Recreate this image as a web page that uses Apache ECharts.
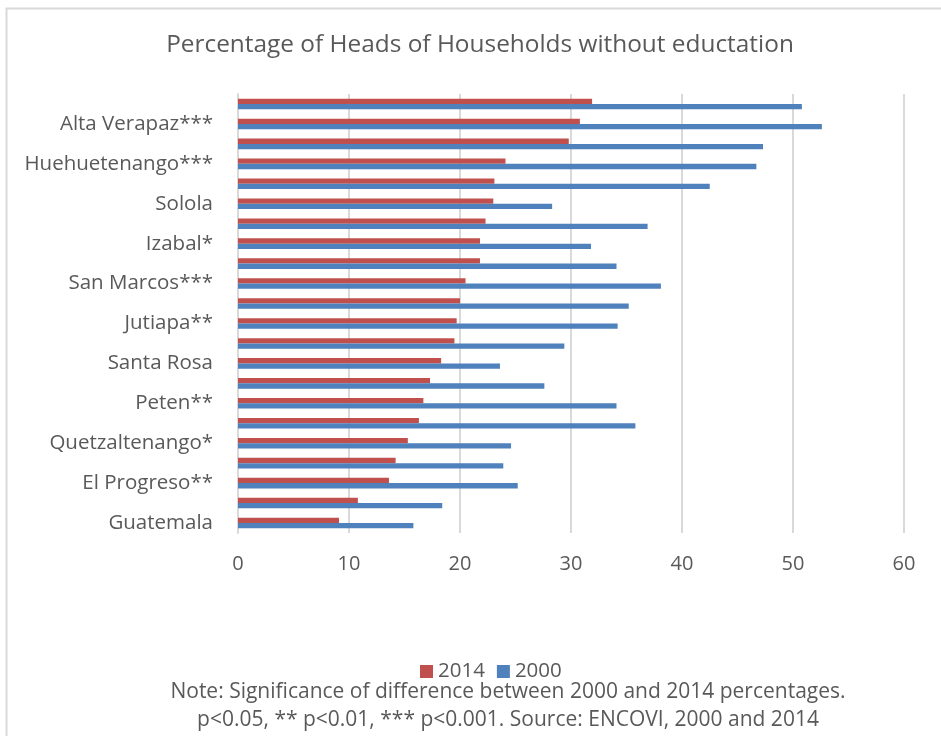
<!DOCTYPE html>
<html>
<head>
<meta charset="utf-8">
<script src="https://cdn.jsdelivr.net/npm/echarts@6/dist/echarts.min.js"></script>
<style>html,body{margin:0;padding:0;background:#fff;}#chart{width:941px;height:736px;}</style>
</head>
<body>
<div id="chart"></div>
<script>
// Categories from bottom (Guatemala) to top
var categories = [
  'Guatemala', 'Sacatepequez', 'El Progreso**', 'Escuintla', 'Quetzaltenango*', 'Retalhuleu',
  'Peten**', 'Chimaltenango', 'Santa Rosa', 'Suchitepequez', 'Jutiapa**', 'Zacapa',
  'San Marcos***', 'Totonicapan', 'Izabal*', 'Jalapa', 'Solola', 'Baja Verapaz',
  'Huehuetenango***', 'Chiquimula', 'Alta Verapaz***', 'Quiche'
];
var values2014 = [9.1, 10.8, 13.6, 14.2, 15.3, 16.3, 16.7, 17.3, 18.3, 19.5, 19.7, 20.0,
  20.5, 21.8, 21.8, 22.3, 23.0, 23.1, 24.1, 29.8, 30.8, 31.9];
var values2000 = [15.8, 18.4, 25.2, 23.9, 24.6, 35.8, 34.1, 27.6, 23.6, 29.4, 34.2, 35.2,
  38.1, 34.1, 31.8, 36.9, 28.3, 42.5, 46.7, 47.3, 52.6, 50.8];
var xTicks = [0, 10, 20, 30, 40, 50, 60];
var seriesNames = ['2014', '2000'];
var titleText = 'Percentage of Heads of Households without eductation';
var noteLines = [
  'Note: Significance of difference between 2000 and 2014 percentages.',
  'p<0.05, ** p<0.01, *** p<0.001. Source: ENCOVI, 2000 and 2014'
];

var FONT = '"Open Sans"';
var TXT = '#595959';
var chart = echarts.init(document.getElementById('chart'), null, {renderer: 'canvas'});
chart.setOption({
  backgroundColor: '#ffffff',
  animation: false,
  textStyle: {fontFamily: FONT},
  title: {
    text: titleText,
    left: 475, top: 28, textAlign: 'center',
    textStyle: {fontFamily: FONT, fontSize: 24.4, fontWeight: 'normal', color: TXT}
  },
  legend: {
    data: seriesNames,
    left: 415, top: 656,
    itemWidth: 13, itemHeight: 13, itemGap: 12,
    icon: 'rect',
    textStyle: {fontFamily: FONT, fontSize: 20.5, color: TXT}
  },
  grid: {left: 238, right: 37, top: 94, bottom: 203, containLabel: false},
  xAxis: {
    type: 'value', min: xTicks[0], max: xTicks[xTicks.length - 1], interval: 10,
    axisLine: {show: false}, axisTick: {show: false},
    splitLine: {show: true, lineStyle: {color: '#d9d9d9', width: 2}},
    axisLabel: {fontFamily: FONT, fontSize: 20, color: TXT, margin: 21}
  },
  yAxis: {
    type: 'category', data: categories,
    axisLine: {show: true, lineStyle: {color: '#d9d9d9', width: 2}},
    axisTick: {show: false},
    axisLabel: {interval: 1, fontFamily: FONT, fontSize: 20.5, color: TXT, margin: 25}
  },
  series: [
    {name: seriesNames[0], type: 'bar', data: values2014, barWidth: 5.3, barGap: '0%',
     itemStyle: {color: '#C0504D'}},
    {name: seriesNames[1], type: 'bar', data: values2000, barWidth: 5.3, barGap: '0%',
     itemStyle: {color: '#4F81BD'}}
  ],
  graphic: [
    {type: 'rect', left: 4, top: 6, shape: {width: 960, height: 760},
     style: {fill: 'none', stroke: '#d9d9d9', lineWidth: 2}, silent: true},
    {type: 'text', x: 508, y: 692,
     style: {text: noteLines[0], font: '21px ' + FONT, fill: TXT, align: 'center', verticalAlign: 'middle'}},
    {type: 'text', x: 508, y: 720,
     style: {text: noteLines[1], font: '21px ' + FONT, fill: TXT, align: 'center', verticalAlign: 'middle'}}
  ]
});
</script>
</body>
</html>
